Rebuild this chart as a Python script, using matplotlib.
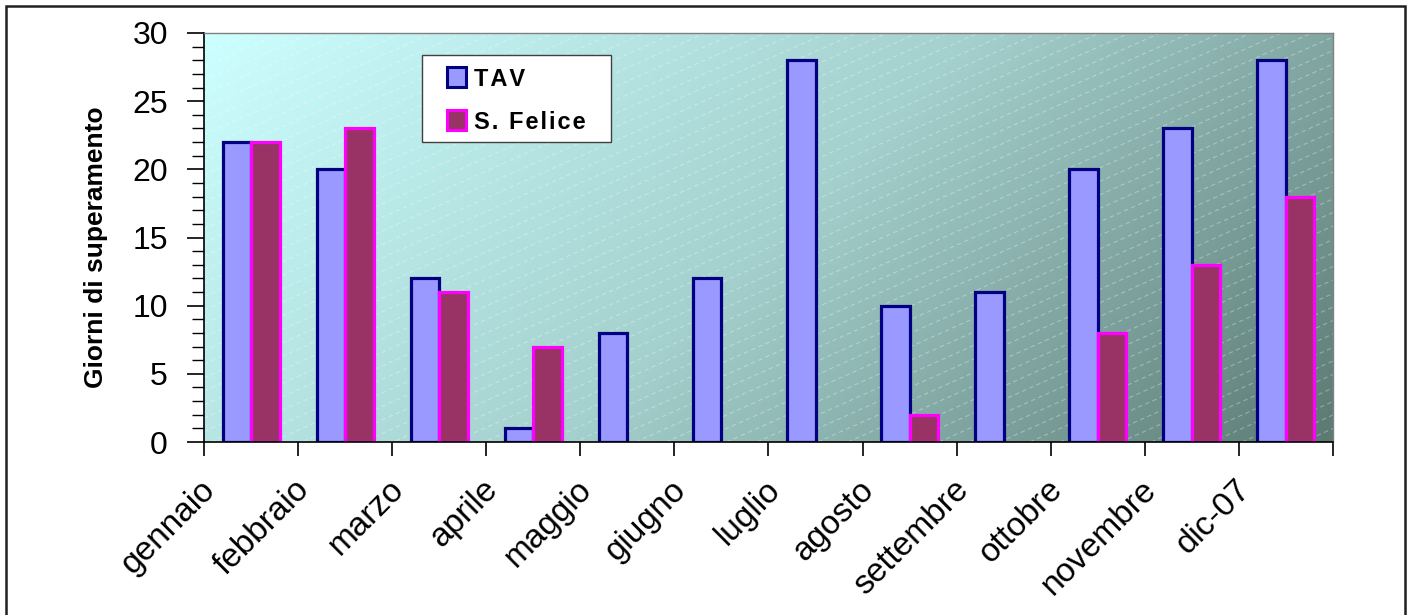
import numpy as np
import matplotlib
matplotlib.use("Agg")
import matplotlib.pyplot as plt
from matplotlib.patches import Rectangle
from matplotlib.collections import LineCollection
from matplotlib.colors import LinearSegmentedColormap
import matplotlib.transforms as mtransforms

plt.rcParams['font.family'] = ['Liberation Sans', 'DejaVu Sans']

# Days above threshold per month
months = ["gennaio", "febbraio", "marzo", "aprile", "maggio", "giugno",
          "luglio", "agosto", "settembre", "ottobre", "novembre", "dic-07"]
tav = [22, 20, 12, 1, 8, 12, 28, 10, 11, 20, 23, 28]
s_felice = [22, 23, 11, 7, np.nan, np.nan, np.nan, 2, np.nan, 8, 13, 18]
series_names = ["TAV", "S. Felice"]
y_label = "Giorni di superamento"

TAV_FACE, TAV_EDGE = "#9999FF", "#000080"
SF_FACE, SF_EDGE = "#993366", "#FF00FF"

W, H, DPI = 1410, 615, 100
fig = plt.figure(figsize=(W / DPI, H / DPI), dpi=DPI)
fig.patch.set_facecolor("white")

# plot area in pixels
L, R, T, B = 204, 1333, 33, 442
ax = fig.add_axes([L / W, 1 - B / H, (R - L) / W, (B - T) / H])
pw, ph = R - L, B - T


def px(xp, yp):
    """Pixel position inside the figure -> axes fraction."""
    return (xp - L) / pw, (B - yp) / ph


n = len(months)
ax.set_xlim(-0.5, n - 0.5)
ax.set_ylim(0, 30)

# diagonal gradient background (light cyan top-left -> grey teal bottom-right)
cmap = LinearSegmentedColormap.from_list(
    "bg", [(0.0, (204/255, 1.0, 1.0)),
           (0.5, (164/255, 208/255, 205/255)),
           (1.0, (92/255, 122/255, 116/255))])
gx, gy = np.meshgrid(np.linspace(0, 1, 400), np.linspace(0, 1, 200))
grad = (gx * pw + gy * ph) / (pw + ph)
ax.imshow(grad, cmap=cmap, extent=[0, 1, 0, 1], origin="upper",
          transform=ax.transAxes, aspect="auto", zorder=0,
          interpolation="bilinear")

# faint dashed diagonal texture lines
ang = np.tan(np.radians(24))
segs = []
spacing = 13.5
for c in np.arange(-pw * ang, ph + spacing, spacing):
    segs.append([(0.0, c / ph), (1.0, (c + pw * ang) / ph)])
lc = LineCollection(segs, colors=(1, 1, 1, 0.32), linewidths=0.8,
                    linestyles=(0, (4, 3)), transform=ax.transAxes, zorder=1)
ax.add_collection(lc)

# bars
x = np.arange(n)
bw = 0.303
tav_arr = np.array(tav, dtype=float)
sf_arr = np.array(s_felice, dtype=float)
m1 = ~np.isnan(tav_arr)
m2 = ~np.isnan(sf_arr)
ax.bar(x[m1] - bw / 2, tav_arr[m1], width=bw, color=TAV_FACE,
       edgecolor=TAV_EDGE, linewidth=2.3, zorder=3)
ax.bar(x[m2] + bw / 2, sf_arr[m2], width=bw, color=SF_FACE,
       edgecolor=SF_EDGE, linewidth=2.3, zorder=3)

# spines
for s in ["left", "bottom"]:
    ax.spines[s].set_color("black")
    ax.spines[s].set_linewidth(1.2)
for s in ["top", "right"]:
    ax.spines[s].set_color("#808080")
    ax.spines[s].set_linewidth(1.0)
for s in ax.spines.values():
    s.set_zorder(4)

# y axis
ax.set_yticks(np.arange(0, 31, 5))
ax.set_yticks(np.arange(0, 31, 1), minor=True)
ax.tick_params(axis="y", which="major", length=12, width=1.2, pad=14,
               labelsize=23, direction="out")
ax.tick_params(axis="y", which="minor", length=9, width=1.0, direction="out")

# x axis: ticks between categories, labels at centres
ax.set_xticks(np.arange(-0.5, n, 1))
ax.set_xticklabels([])
ax.set_xticks(x, minor=True)
ax.set_xticklabels(months, minor=True, rotation=45, ha="right", va="top",
                   fontsize=24)
ax.tick_params(axis="x", which="major", length=10, width=1.2, direction="out")
ax.tick_params(axis="x", which="minor", length=0, pad=0)
offset = mtransforms.ScaledTranslation(-21 / 72, -23 / 72, fig.dpi_scale_trans)
for lab in ax.get_xticklabels(minor=True):
    lab.set_transform(lab.get_transform() + offset)

ax.set_ylabel(y_label, fontsize=19, fontweight="bold")
ax.yaxis.set_label_coords(-0.085, 0.477)

# legend box drawn in axes fraction
bx0, by0 = px(422, 142)
bx1, by1 = px(611, 55)
ax.add_patch(Rectangle((bx0, by0), bx1 - bx0, by1 - by0,
                       transform=ax.transAxes, facecolor="white",
                       edgecolor="#404040", linewidth=1.0, zorder=5))
entries = [(series_names[0], TAV_FACE, TAV_EDGE, 77),
           (series_names[1], SF_FACE, SF_EDGE, 120)]
for name, face, edge, yc in entries:
    sx0, sy0 = px(447, yc + 9.5)
    sx1, sy1 = px(466, yc - 9.5)
    ax.add_patch(Rectangle((sx0, sy0), sx1 - sx0, sy1 - sy0,
                           transform=ax.transAxes, facecolor=face,
                           edgecolor=edge, linewidth=2.2, zorder=6))
    tx, ty = px(474, yc)
    ax.text(tx, ty, "\u200a".join(name), transform=ax.transAxes,
            fontsize=17, fontweight="bold", ha="left", va="center_baseline",
            zorder=6)

# outer frame
fig.add_artist(Rectangle((5.5 / W, -0.05), (W - 11) / W, 1.05 - 5.5 / H,
                         transform=fig.transFigure, fill=False,
                         edgecolor="#202020", linewidth=1.8))

fig.savefig("out.png", dpi=DPI)
